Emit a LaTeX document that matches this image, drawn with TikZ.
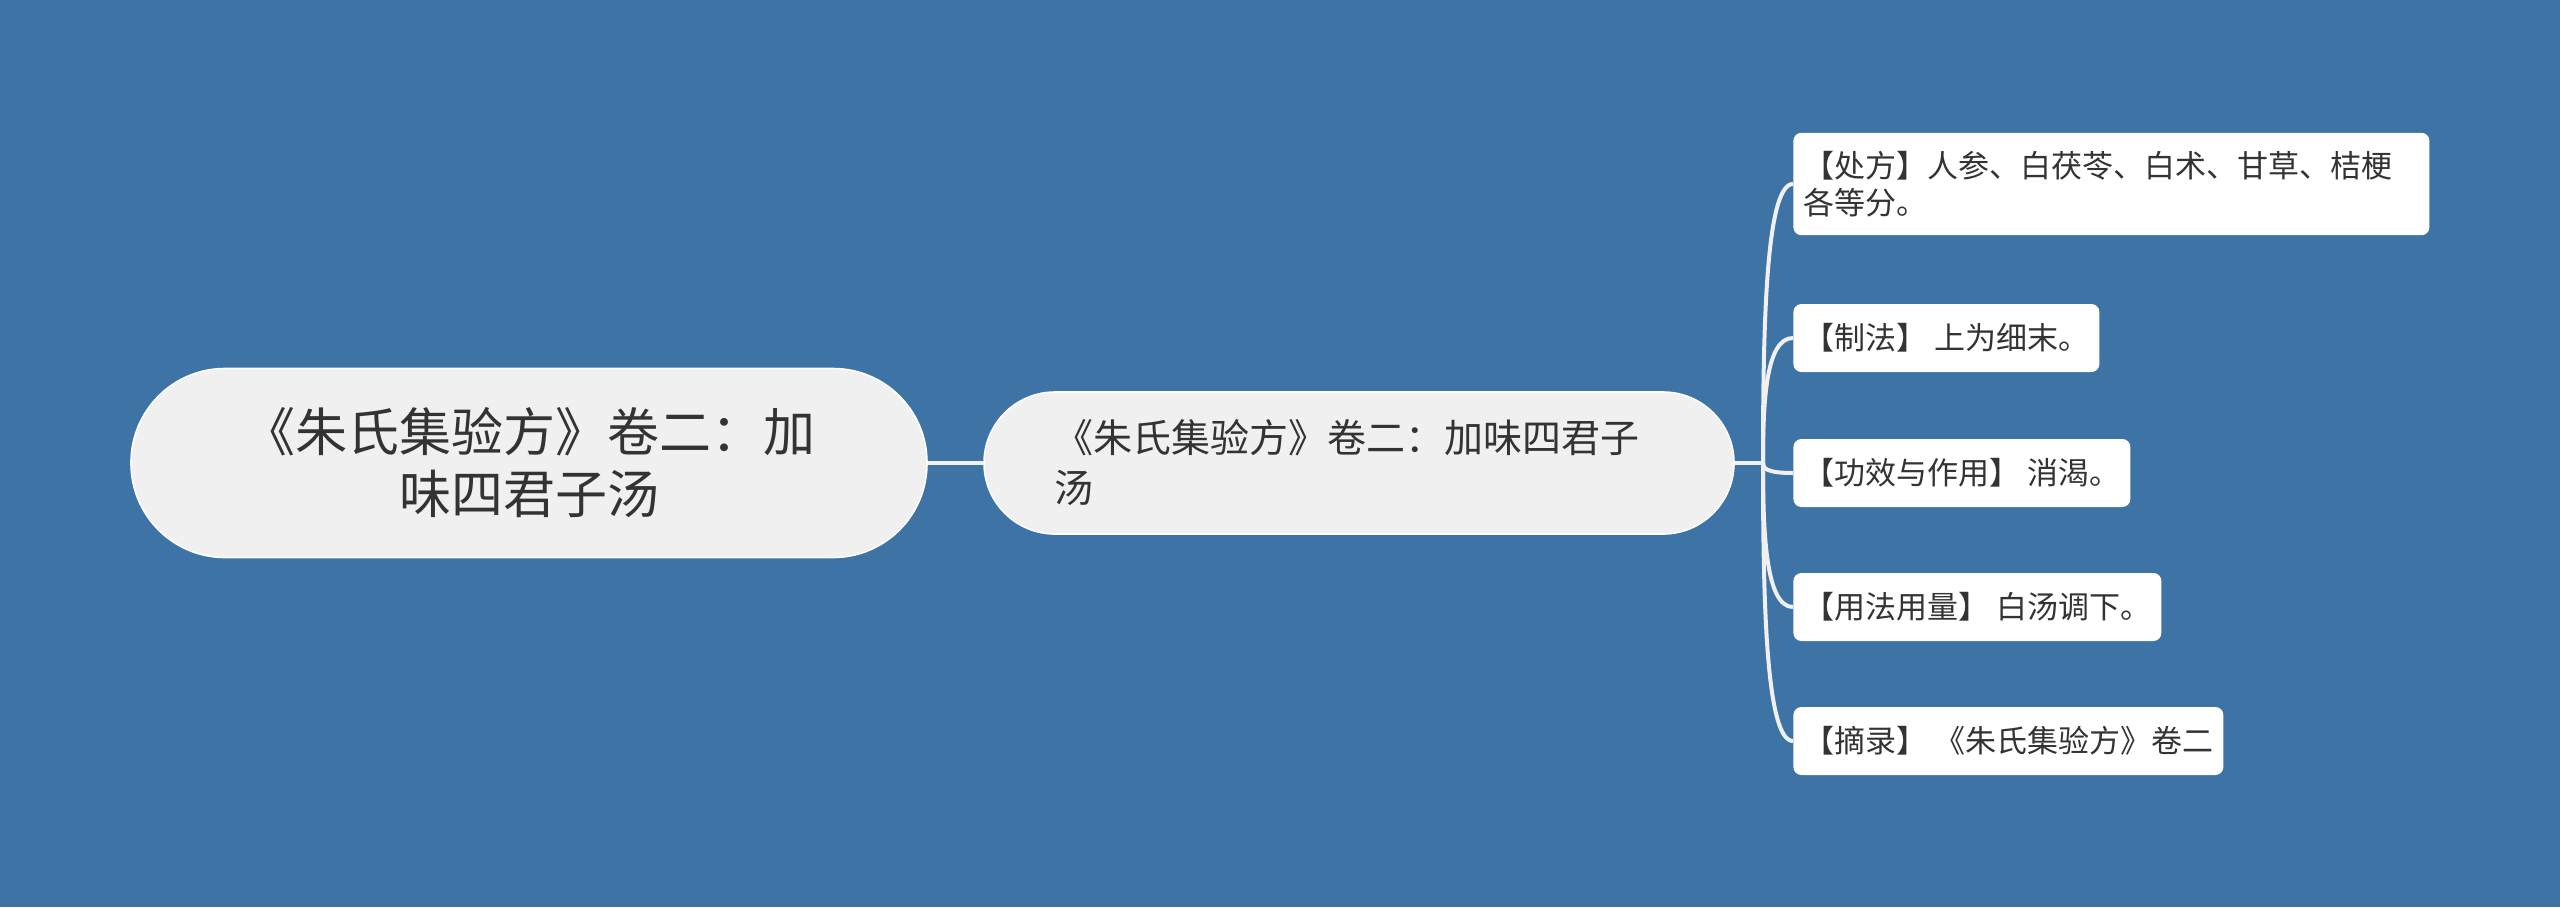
\documentclass[tikz,border=0pt]{standalone}
\usepackage{fontspec}
\setmainfont{Noto Sans CJK SC}
\usetikzlibrary{calc}
\definecolor{bgblue}{HTML}{3E73A6}
\definecolor{nodegray}{HTML}{F0F0F0}
\definecolor{inkgray}{HTML}{333333}
\begin{document}
\begin{tikzpicture}[x=0.5pt, y=-0.5pt,
    rootbox/.style={fill=nodegray, draw=white, line width=0.8pt, rounded corners=47pt,
        minimum width=398pt, minimum height=94.5pt, align=center, text=inkgray,
        font=\fontsize{26pt}{31pt}\selectfont},
    mainbox/.style={fill=nodegray, draw=white, line width=0.8pt, rounded corners=35.5pt,
        text width=305pt, inner xsep=35pt, minimum height=71pt, align=left, text=inkgray,
        font=\fontsize{19.5pt}{25pt}\selectfont},
    leafbox/.style={fill=white, rounded corners=4pt, anchor=west, inner xsep=5pt,
        inner ysep=9pt, minimum height=34pt, align=left, text=inkgray,
        font=\fontsize{15.5pt}{18.8pt}\selectfont},
    link/.style={draw=nodegray, line width=2pt}]

    % Background
    \fill[bgblue] (0,0) rectangle (2560,907);
    \useasboundingbox (0,0) rectangle (2560,907);

    % Root and main topic
    \node[rootbox] (root) at (529,463) {《朱氏集验方》卷二：加\\味四君子汤};
    \node[mainbox] (main) at (1359,463) {《朱氏集验方》卷二：加味四君子\\汤};
    \draw[link] (root.east) -- (main.west);

    % Leaves
    \node[leafbox, text width=308pt] (recipe) at (1793,184) {【处方】人参、白茯苓、白术、甘草、桔梗\\各等分。};
    \node[leafbox] (prep) at (1793,338) {【制法】 上为细末。};
    \node[leafbox] (effect) at (1793,473) {【功效与作用】 消渴。};
    \node[leafbox] (usage) at (1793,607) {【用法用量】 白汤调下。};
    \node[leafbox] (source) at (1793,741) {【摘录】 《朱氏集验方》卷二};

    % Branches
    \coordinate (fork) at (1763,463);
    \draw[link] (main.east) -- (fork);
    \foreach \leaf in {recipe, prep, effect, usage, source}
        \draw[link] (fork) .. controls ($(fork)!0.5!(fork |- \leaf.west)$) and (1766,0 |- \leaf.west) .. (\leaf.west);
\end{tikzpicture}
\end{document}
